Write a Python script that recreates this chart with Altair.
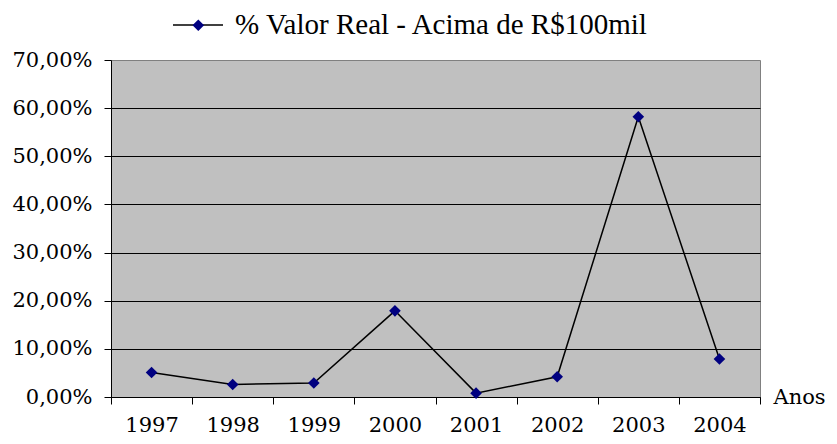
import altair as alt
import pandas as pd

years = ["1997", "1998", "1999", "2000", "2001", "2002", "2003", "2004"]
values = [5.1, 2.6, 2.9, 17.9, 0.8, 4.2, 58.2, 7.9]
series = "% Valor Real - Acima de R$100mil"
y_ticks = [0, 10, 20, 30, 40, 50, 60, 70]

df = pd.DataFrame({
    "ano": years,
    "valor": values,
    "serie": [series] * len(years),
    "marcador": [series] * len(years),
})

AXIS_FONT = "DejaVu Serif"

x = alt.X(
    "ano:O",
    scale=alt.Scale(type="band", paddingInner=0, paddingOuter=0),
    axis=alt.Axis(
        title="Anos",
        tickBand="extent",
        labelAngle=0,
        tickSize=7,
        tickColor="black",
        domainColor="black",
        labelFont=AXIS_FONT,
        labelFontSize=21,
        labelColor="black",
        labelPadding=10,
        grid=False,
        titleFont=AXIS_FONT,
        titleFontSize=21,
        titleFontWeight="normal",
        titleColor="black",
        titleX=662,
        titleY=6,
        titleAlign="left",
        titleBaseline="alphabetic",
        titleAngle=0,
    ),
)
y = alt.Y(
    "valor:Q",
    scale=alt.Scale(domain=[0, 70], nice=False),
    axis=alt.Axis(
        title=None,
        values=y_ticks,
        tickSize=7,
        tickColor="black",
        domainColor="black",
        labelFont=AXIS_FONT,
        labelFontSize=21,
        labelColor="black",
        labelPadding=12,
        labelExpr="replace(format(datum.value, '.2f'), '.', ',') + '%'",
        grid=True,
        gridColor={"condition": {"test": "datum.value === 70", "value": "transparent"}, "value": "black"},
        gridWidth=1,
    ),
)

base = alt.Chart(df)
line = base.mark_line(color="black", strokeWidth=1.5).encode(
    x=x,
    y=y,
    opacity=alt.Opacity(
        "serie:N",
        scale=alt.Scale(range=[1]),
        legend=alt.Legend(
            title=None,
            orient="none",
            legendX=61,
            legendY=-61,
            symbolType="M-1,0H1",
            symbolSize=2500,
            symbolStrokeColor="black",
            symbolStrokeWidth=1.5,
            labelFont="Liberation Serif",
            labelFontSize=29,
            labelColor="black",
            labelLimit=800,
            labelOffset=11,
            padding=0,
        ),
    ),
)
points = base.mark_point(shape="diamond", filled=True, size=135, color="#000080", opacity=1).encode(
    x=x,
    y=y,
    shape=alt.Shape(
        "marcador:N",
        scale=alt.Scale(range=["diamond"]),
        legend=alt.Legend(
            title=None,
            orient="none",
            legendX=80.3,
            legendY=-41.7,
            symbolSize=135,
            symbolFillColor="#000080",
            symbolStrokeColor="#000080",
            symbolOpacity=1,
            labelExpr="''",
            labelFontSize=10,
            padding=0,
        ),
    ),
)

chart = (
    alt.layer(line, points)
    .properties(
        width=649,
        height=337,
        autosize=alt.AutoSizeParams(type="none"),
        padding={"left": 103, "top": 52, "right": 69, "bottom": 39},
        background="white",
    )
    .configure_view(fill="#C0C0C0", stroke="#808080", strokeWidth=1)
)

chart.save("out.html", embed_options={"renderer": "svg", "actions": False})
